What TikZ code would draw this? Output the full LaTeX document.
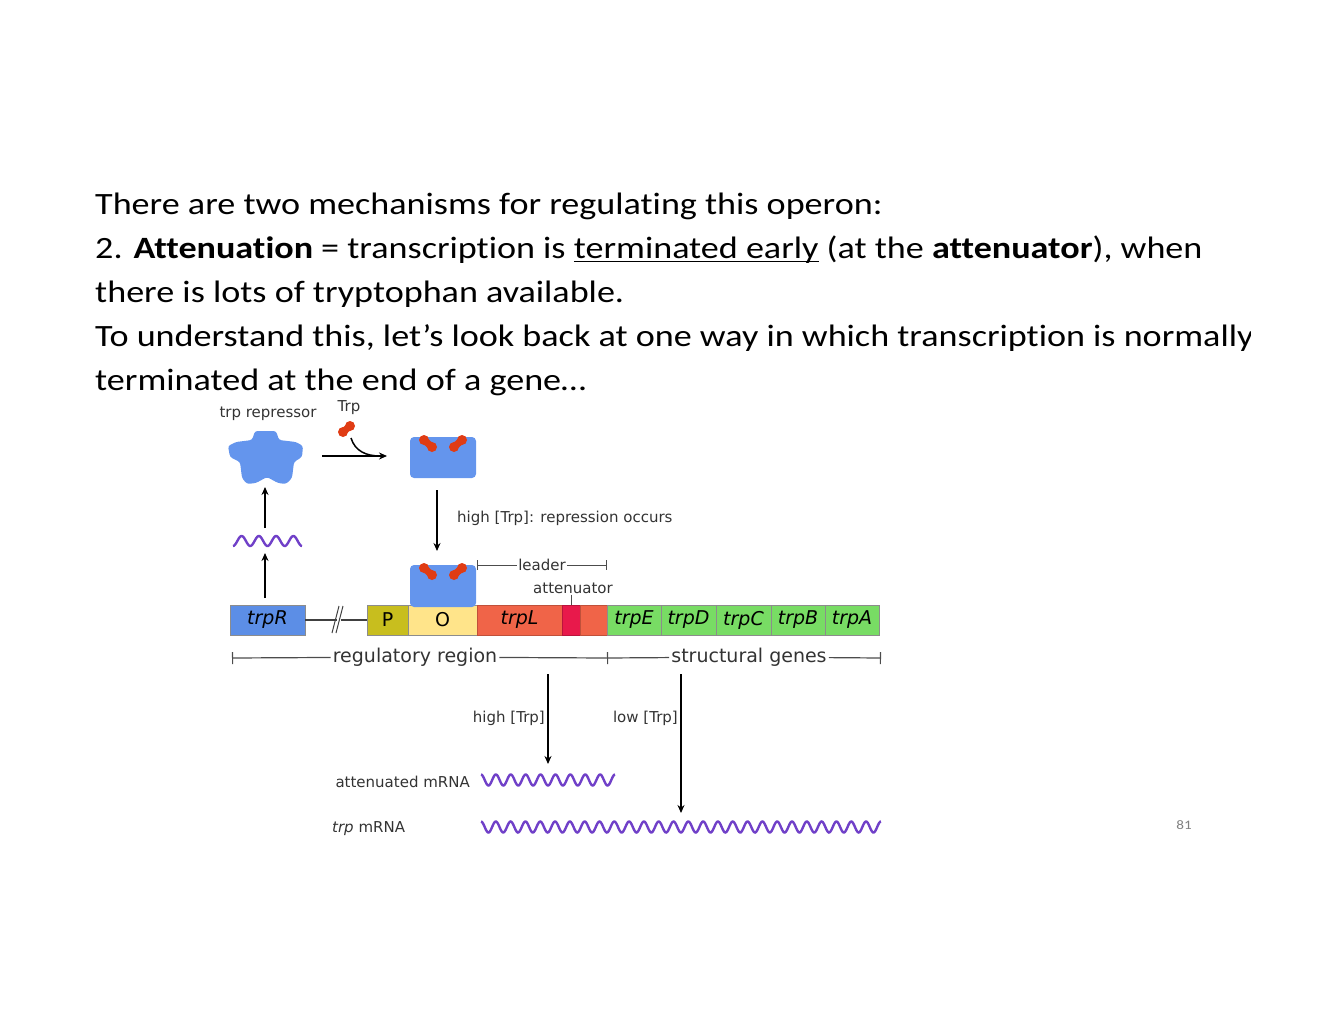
\documentclass[tikz,border=0pt]{standalone}
\usepackage{fontspec}
\setmainfont{Carlito}[FakeStretch=1.165, Ligatures=NoCommon]
\newfontfamily\diagfont{DejaVu Sans}
\usetikzlibrary{shapes,arrows,arrows.meta,positioning}

\definecolor{repblue}{RGB}{100,149,237}
\definecolor{trpred}{RGB}{224,60,20}
\definecolor{trpRblue}{RGB}{92,142,230}
\definecolor{promolive}{RGB}{200,190,30}
\definecolor{opyellow}{RGB}{255,228,138}
\definecolor{leadorange}{RGB}{240,100,72}
\definecolor{attred}{RGB}{232,25,75}
\definecolor{genegreen}{RGB}{120,220,100}
\definecolor{mrnapurple}{RGB}{112,64,200}

\newcommand{\ulined}[1]{\setbox0\hbox{#1}\rlap{\rule[-4pt]{\wd0}{1.5pt}}\box0\relax}

\tikzset{
  slide/.style={anchor=base west, inner sep=0pt, font=\fontsize{31}{44}\selectfont},
  gene/.style={draw=black!45, line width=1pt, minimum height=30pt, inner sep=0pt, outer sep=0pt,
    font=\diagfont\itshape\fontsize{19}{19}\selectfont},
  lbl/.style={font=\diagfont\fontsize{15}{15}\selectfont, text=black!80, inner sep=1pt},
  brlbl/.style={font=\diagfont\fontsize{19}{19}\selectfont, text=black!80, inner sep=2pt},
  bracket/.style={draw=black!70, line width=1.2pt},
  thinbr/.style={draw=black!70, line width=1pt},
  flow/.style={-{Stealth[length=8pt,width=7pt]}, line width=1.5pt},
  mrna/.style={draw=mrnapurple, line width=2.4pt},
}

% one Trp molecule
\newcommand{\trpmol}[4]{%
  \draw[trpred, line width=7pt] (#1,#2) -- (#3,#4);
  \fill[trpred] (#1,#2) circle (5pt) (#3,#4) circle (5pt);}

% repressor dimer with two bound Trp
\newcommand{\repdimer}[3]{%
  \begin{scope}[shift={(#1,#2)}]
    \fill[repblue, rounded corners=4pt] (0,0) rectangle (66,#3);
    \trpmol{14}{3}{22}{10}
    \trpmol{52}{3}{44}{10}
  \end{scope}}

\begin{document}
\begin{tikzpicture}[x=1pt,y=-1pt]
  \useasboundingbox (0,0) rectangle (1320,1020);

  % slide text
  \node[slide] (line1) at (95,214) {There are two mechanisms for regulating this operon:};
  \node[slide] (line2) at (95,258) {2. \textbf{Attenuation} = transcription is \ulined{terminated early} (at the \textbf{attenuator}), when};
  \node[slide] (line3) at (95,302) {there is lots of tryptophan available.};
  \begin{scope}
    \clip (0,310) rectangle (1250,360);
    \node[slide] (line4) at (95,346) {To understand this, let’s look back at one way in which transcription is normally};
  \end{scope}
  \node[slide] (line5) at (95,390) {terminated at the end of a gene…};

  % repressor and Trp
  \node[lbl] (replbl) at (268,414) {trp repressor};
  \node[lbl] (trplbl) at (349,408) {Trp};
  \fill[repblue, rounded corners=2.5pt] (255,431) -- (276,431) -- (279,440) -- (296,442) -- (303,446)
    -- (302,457) -- (294,462) -- (292,478) -- (286,484) -- (278,483) -- (267,477) -- (256,483)
    -- (247,484) -- (242,478) -- (240,462) -- (230,457) -- (228,446) -- (236,442) -- (252,440) -- cycle;
  \trpmol{343}{432}{350}{426}
  \repdimer{410}{437}{41}

  \coordinate (bindL) at (322,456);
  \coordinate (bindR) at (387,456);
  \coordinate (trpsrc) at (351,438);
  \draw[flow] (bindL) -- (bindR);
  \draw[line width=1.5pt] (trpsrc) .. controls (355,451) and (366,456) .. (380,456);

  \coordinate (repdown) at (437,490);
  \coordinate (repop) at (437,551);
  \draw[flow] (repdown) -- (repop);
  \node[lbl, anchor=west] (repocc) at (456,518) {high [Trp]: repression occurs};

  % trpR expression
  \coordinate (trpRtop) at (265,598);
  \coordinate (wavebot) at (265,553);
  \coordinate (wavetop) at (265,528);
  \coordinate (repbot) at (265,487);
  \draw[flow] (trpRtop) -- (wavebot);
  \draw[flow] (wavetop) -- (repbot);
  \draw[mrna] plot[domain=0:69, samples=80] ({233+\x},{541+5*cos(\x/17.25*360)});

  % operon
  \node[gene, fill=trpRblue, minimum width=75pt] (trpR) at (267.5,620) {trpR};
  \node[gene, fill=promolive, minimum width=41pt, font=\diagfont\fontsize{19}{19}\selectfont] (P) at (387.5,620) {P};
  \node[gene, fill=opyellow, minimum width=69pt, font=\diagfont\fontsize{19}{19}\selectfont] (O) at (442.5,620) {O};
  \node[gene, fill=leadorange, draw=leadorange!80!black, minimum width=85pt] (trpL) at (519.5,620) {trpL};
  \node[gene, fill=attred, draw=attred!80!black, minimum width=18pt] (att) at (571,620) {};
  \node[gene, fill=leadorange, draw=leadorange!80!black, minimum width=27pt] (lead2) at (593.5,620) {};
  \node[gene, fill=genegreen, minimum width=54pt] (trpE) at (634,620) {trpE};
  \node[gene, fill=genegreen, minimum width=55pt] (trpD) at (688.5,620) {trpD};
  \node[gene, fill=genegreen, minimum width=55pt] (trpC) at (743.5,620) {trpC};
  \node[gene, fill=genegreen, minimum width=54pt] (trpB) at (798,620) {trpB};
  \node[gene, fill=genegreen, minimum width=54pt] (trpA) at (852,620) {trpA};
  \repdimer{410}{565}{42}

  \coordinate (brk1) at (336.5,620);
  \coordinate (brk2) at (340.5,620);
  \draw[line width=2pt, black!75] (trpR.east) -- (brk1);
  \draw[line width=2pt, black!75] (brk2) -- (P.west);
  \draw[line width=1pt, black!75] (332,633) -- (339,606) (336,633) -- (343,606);

  % leader and attenuator
  \node[lbl] (leader) at (542,565) {leader};
  \coordinate (leadL) at (477,565);
  \coordinate (leadR) at (607,565);
  \draw[thinbr, {Bar[width=10pt]}-] (leadL) -- (leader);
  \draw[thinbr, -{Bar[width=10pt]}] (leader) -- (leadR);
  \node[lbl] (attlbl) at (573,588) {attenuator};
  \draw[thinbr] (attlbl.south -| att.north) -- (att.north);

  % regions
  \node[brlbl] (regreg) at (415,657) {regulatory region};
  \node[brlbl] (strgen) at (749,657) {structural genes};
  \coordinate (regL) at (232,658);
  \coordinate (split) at (607,658);
  \coordinate (strR) at (881,658);
  \draw[bracket, {Bar[width=12pt]}-] (regL) -- (regreg);
  \draw[bracket] (regreg) -- (split);
  \draw[bracket, {Bar[width=12pt]}-] (split) -- (strgen);
  \draw[bracket, -{Bar[width=12pt]}] (strgen) -- (strR);

  % transcripts
  \coordinate (hiTop) at (548,674);
  \coordinate (hiEnd) at (548,764);
  \coordinate (loTop) at (681,674);
  \coordinate (loEnd) at (681,813);
  \draw[flow] (hiTop) -- (hiEnd);
  \draw[flow] (loTop) -- (loEnd);
  \node[lbl, anchor=east] (hilbl) at (546,718) {high [Trp]};
  \node[lbl, anchor=east] (lolbl) at (679,718) {low [Trp]};
  \node[lbl, anchor=east] (attmrna) at (471,782) {attenuated mRNA};
  \node[lbl, anchor=west] (trpmrna) at (331,829) {\textit{trp} mRNA};
  \draw[mrna] plot[domain=0:134, samples=200] ({481+\x},{780-5.5*cos(\x/14.89*360)});
  \draw[mrna] plot[domain=0:400, samples=500] ({481+\x},{827-5.5*cos(\x/14.81*360)});

  \node[font=\fontsize{13}{13}\selectfont, text=black!50] (pagenum) at (1184,825) {81};
\end{tikzpicture}
\end{document}
